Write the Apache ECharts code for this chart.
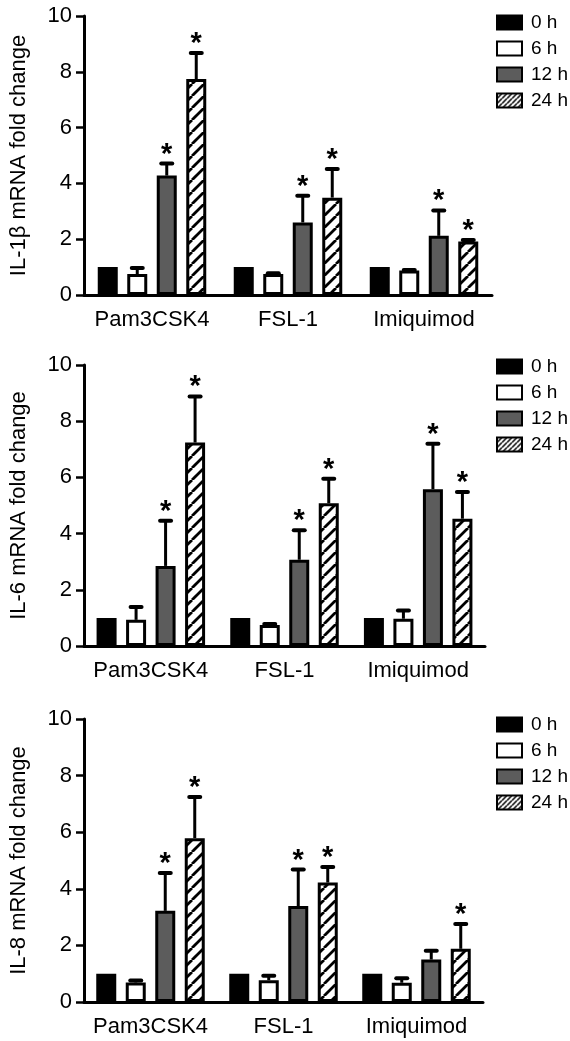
<!DOCTYPE html>
<html><head><meta charset="utf-8">
<script src="https://cdn.jsdelivr.net/npm/echarts@6/dist/echarts.min.js"></script>
<style>html,body{margin:0;padding:0;background:#fff}#c{width:570px;height:1041px}</style>
</head><body><div id="c"></div>
<script>
// ---- data ----
const categories = ['Pam3CSK4', 'FSL-1', 'Imiquimod'];
const timepoints = ['0 h', '6 h', '12 h', '24 h'];
const yTicks = [0, 2, 4, 6, 8, 10];
const panelNames = ['IL-1β mRNA fold change', 'IL-6 mRNA fold change', 'IL-8 mRNA fold change'];

// means: one row per timepoint (0 h, 6 h, 12 h, 24 h), one column per category
const il1bMean = [[1.0, 1.0, 1.0], [0.75, 0.75, 0.88], [4.28, 2.60, 2.12], [7.74, 3.49, 1.92]];
const il1bUpper = [[null, null, null], [0.97, 0.78, 0.90], [4.71, 3.56, 3.03], [8.67, 4.52, 1.97]];
const il1bStar = [[0, 0, 0], [0, 0, 0], [1, 1, 1], [1, 1, 1]];

const il6Mean = [[1.0, 1.0, 1.0], [0.93, 0.75, 0.97], [2.85, 3.07, 5.58], [7.24, 5.08, 4.53]];
const il6Upper = [[null, null, null], [1.39, 0.78, 1.26], [4.46, 4.12, 7.20], [8.88, 5.95, 5.48]];
const il6Star = [[0, 0, 0], [0, 0, 0], [1, 1, 1], [1, 1, 1]];

const il8Mean = [[1.0, 1.0, 1.0], [0.69, 0.77, 0.68], [3.22, 3.39, 1.50], [5.79, 4.22, 1.88]];
const il8Upper = [[null, null, null], [0.76, 0.93, 0.84], [4.56, 4.68, 1.81], [7.24, 4.77, 2.76]];
const il8Star = [[0, 0, 0], [0, 0, 0], [1, 1, 0], [1, 1, 1]];

const panelMeans = [il1bMean, il6Mean, il8Mean];
const panelUppers = [il1bUpper, il6Upper, il8Upper];
const panelStars = [il1bStar, il6Star, il8Star];

// ---- style ----
const FONT = 'Liberation Sans, Arial, Helvetica, sans-serif';
const BAR_W = 20;
const BAR_GAP = 0.475;
const PITCH = BAR_W * (1 + BAR_GAP);

function makeHatch(p, lw) {
  const c = document.createElement('canvas');
  c.width = p; c.height = p;
  const ctx = c.getContext('2d');
  ctx.fillStyle = '#fff';
  ctx.fillRect(0, 0, p, p);
  ctx.strokeStyle = '#000';
  ctx.lineWidth = lw;
  ctx.beginPath();
  for (let k = -1; k <= 1; k++) {
    ctx.moveTo(k * p, p);
    ctx.lineTo(k * p + p, 0);
  }
  ctx.stroke();
  return { image: c, repeat: 'repeat' };
}
const hatchBar = makeHatch(12, 2.8);
const hatchLegend = makeHatch(5, 1.5);

const fills = ['#000000', '#ffffff', '#5c5c5c', hatchBar];

const grids = [
  { left: 79, top: 16, width: 413, height: 279 },
  { left: 80, top: 365, width: 405, height: 281 },
  { left: 79, top: 719, width: 404, height: 283 }
];
const legendTops = [13, 357, 715];

const xAxes = [], yAxes = [], series = [], legends = [];
for (let p = 0; p < 3; p++) {
  xAxes.push({
    type: 'category', gridIndex: p, data: categories,
    axisLine: { lineStyle: { color: '#000', width: 3 } },
    axisTick: { alignWithLabel: true, interval: 0, length: 8, lineStyle: { color: '#000', width: 2.5 } },
    axisLabel: { interval: 0, color: '#000', fontSize: 22, fontFamily: FONT, margin: 14 },
    splitLine: { show: false }
  });
  yAxes.push({
    type: 'value', gridIndex: p, min: yTicks[0], max: yTicks[yTicks.length - 1], interval: yTicks[1] - yTicks[0],
    name: panelNames[p], nameLocation: 'middle', nameGap: 54,
    nameTextStyle: { color: '#000', fontSize: 22, fontFamily: FONT },
    axisLine: { show: true, lineStyle: { color: '#000', width: 3 } },
    axisTick: { show: true, length: 8, lineStyle: { color: '#000', width: 2.5 } },
    axisLabel: { color: '#000', fontSize: 22, fontFamily: FONT, margin: 12 },
    splitLine: { show: false }
  });
  for (let t = 0; t < 4; t++) {
    series.push({
      type: 'bar', name: timepoints[t], xAxisIndex: p, yAxisIndex: p,
      data: panelMeans[p][t], barWidth: BAR_W, barGap: (BAR_GAP * 100) + '%',
      itemStyle: { color: fills[t], borderColor: '#000', borderWidth: 3 },
      emphasis: { disabled: true }, animation: false, z: 2
    });
  }
  const errData = [];
  for (let t = 0; t < 4; t++) {
    for (let c = 0; c < 3; c++) {
      const up = panelUppers[p][t][c];
      const st = panelStars[p][t][c];
      if (up == null && !st) continue;
      errData.push([c, panelMeans[p][t][c], up == null ? panelMeans[p][t][c] : up, t, st]);
    }
  }
  series.push({
    type: 'custom', xAxisIndex: p, yAxisIndex: p, data: errData, z: 5, animation: false,
    silent: true,
    renderItem: function (params, api) {
      const cat = api.value(0), mean = api.value(1), upper = api.value(2), t = api.value(3), star = api.value(4);
      const base = api.coord([cat, mean]);
      const x = base[0] + (t - 1.5) * PITCH;
      const children = [];
      let topY = base[1];
      if (upper > mean) {
        const u = api.coord([cat, upper]);
        topY = u[1];
        children.push({ type: 'line', shape: { x1: x, y1: base[1], x2: x, y2: u[1] }, style: { stroke: '#000', lineWidth: 3 } });
        children.push({ type: 'line', shape: { x1: x - 5.5, y1: u[1], x2: x + 5.5, y2: u[1] }, style: { stroke: '#000', lineWidth: 4, lineCap: 'round' } });
      }
      if (star) {
        children.push({ type: 'text', x: x, y: topY - 9, style: { text: '*', fill: '#000', font: 'bold 29px ' + FONT, align: 'center', verticalAlign: 'middle' } });
      }
      return { type: 'group', children: children };
    }
  });
  legends.push({
    orient: 'vertical', left: 496, top: legendTops[p], itemWidth: 25, itemHeight: 14, itemGap: 7,
    padding: 0, selectedMode: false, icon: 'rect',
    itemStyle: { borderWidth: 2, borderColor: '#000' },
    textStyle: { color: '#000', fontSize: 19, fontFamily: FONT, padding: [0, 0, 0, 4] },
    data: timepoints.map((n, i) => i === 3 ? { name: n, itemStyle: { color: hatchLegend } } : { name: n })
  });
}

const chart = echarts.init(document.getElementById('c'), null, { renderer: 'canvas' });
chart.setOption({
  animation: false,
  backgroundColor: '#fff',
  grid: grids, xAxis: xAxes, yAxis: yAxes, series: series, legend: legends
});
</script></body></html>
